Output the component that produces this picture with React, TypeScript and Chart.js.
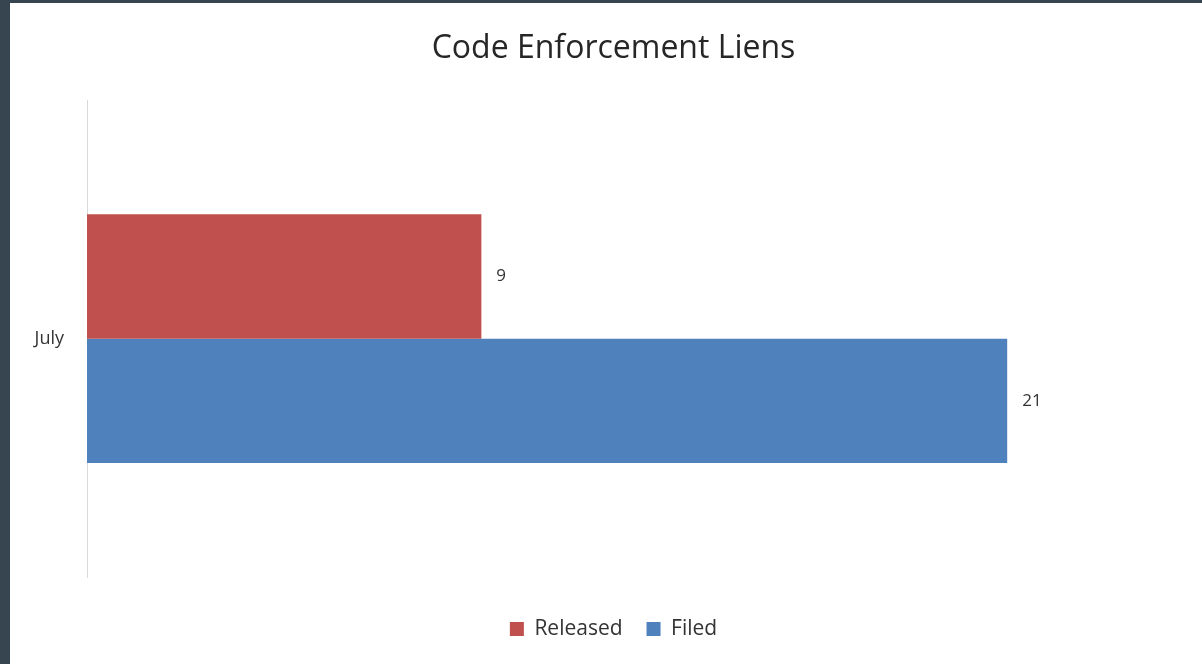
import React, { useEffect, useRef } from "react";
import { Chart, registerables } from "chart.js";

Chart.register(...registerables);

const categories = ["July"];
const releasedValues = [9];
const filedValues = [21];
const seriesNames = ["Released", "Filed"];
const chartTitle = "Code Enforcement Liens";
const valueAxisMax = 25.4;

const FONT = "'Open Sans', Lato, sans-serif";

const valueLabels = {
  id: "valueLabels",
  afterDatasetsDraw(chart: any) {
    const ctx = chart.ctx;
    ctx.save();
    ctx.font = `17px ${FONT}`;
    ctx.fillStyle = "#333333";
    ctx.textAlign = "left";
    ctx.textBaseline = "middle";
    chart.data.datasets.forEach((ds: any, di: number) => {
      const meta = chart.getDatasetMeta(di);
      meta.data.forEach((bar: any, i: number) => {
        ctx.fillText(String(ds.data[i]), bar.x + 15, bar.y);
      });
    });
    ctx.restore();
  },
};

export default function App() {
  const ref = useRef<HTMLCanvasElement>(null);
  useEffect(() => {
    if (!ref.current) return;
    const chart = new Chart(ref.current, {
      type: "bar",
      data: {
        labels: categories,
        datasets: [
          {
            label: seriesNames[0],
            data: releasedValues,
            backgroundColor: "#C0504D",
            barPercentage: 1,
            categoryPercentage: 0.522,
          },
          {
            label: seriesNames[1],
            data: filedValues,
            backgroundColor: "#4F81BD",
            barPercentage: 1,
            categoryPercentage: 0.522,
          },
        ],
      },
      options: {
        indexAxis: "y",
        animation: false,
        responsive: false,
        maintainAspectRatio: false,
        layout: { padding: { left: 17, right: 2, top: 0, bottom: 14.5 } },
        scales: {
          x: { display: false, min: 0, max: valueAxisMax },
          y: {
            grid: { display: false, drawTicks: false },
            border: { display: true, color: "#d9d9d9", width: 1 },
            ticks: {
              font: { family: FONT, size: 18 },
              color: "#333333",
              padding: 23,
            },
            afterFit(scale: any) {
              scale.width = 60;
            },
          },
        },
        plugins: {
          tooltip: { enabled: false },
          title: {
            display: true,
            text: chartTitle,
            font: { family: FONT, size: 32, weight: "normal" },
            color: "#262626",
            padding: { top: 26.5, bottom: 32.5 },
          },
          legend: {
            position: "bottom",
            title: {
              display: true,
              text: "",
              font: { size: 1, lineHeight: 1 },
              padding: { top: 16.5, bottom: 0 },
            },
            labels: {
              font: { family: FONT, size: 21 },
              color: "#333333",
              boxWidth: 14,
              boxHeight: 14,
              padding: 24,
            },
          },
        },
      },
      plugins: [valueLabels],
    });
    return () => chart.destroy();
  }, []);
  return (
    <div
      style={{
        position: "fixed",
        left: 0,
        top: 0,
        width: 1202,
        height: 664,
        background: "#36454f",
      }}
    >
      <div
        style={{
          position: "absolute",
          left: 10,
          top: 3,
          width: 1192,
          height: 661,
          background: "#ffffff",
        }}
      >
        <canvas ref={ref} width={1192} height={661} style={{ display: "block" }} />
      </div>
    </div>
  );
}
